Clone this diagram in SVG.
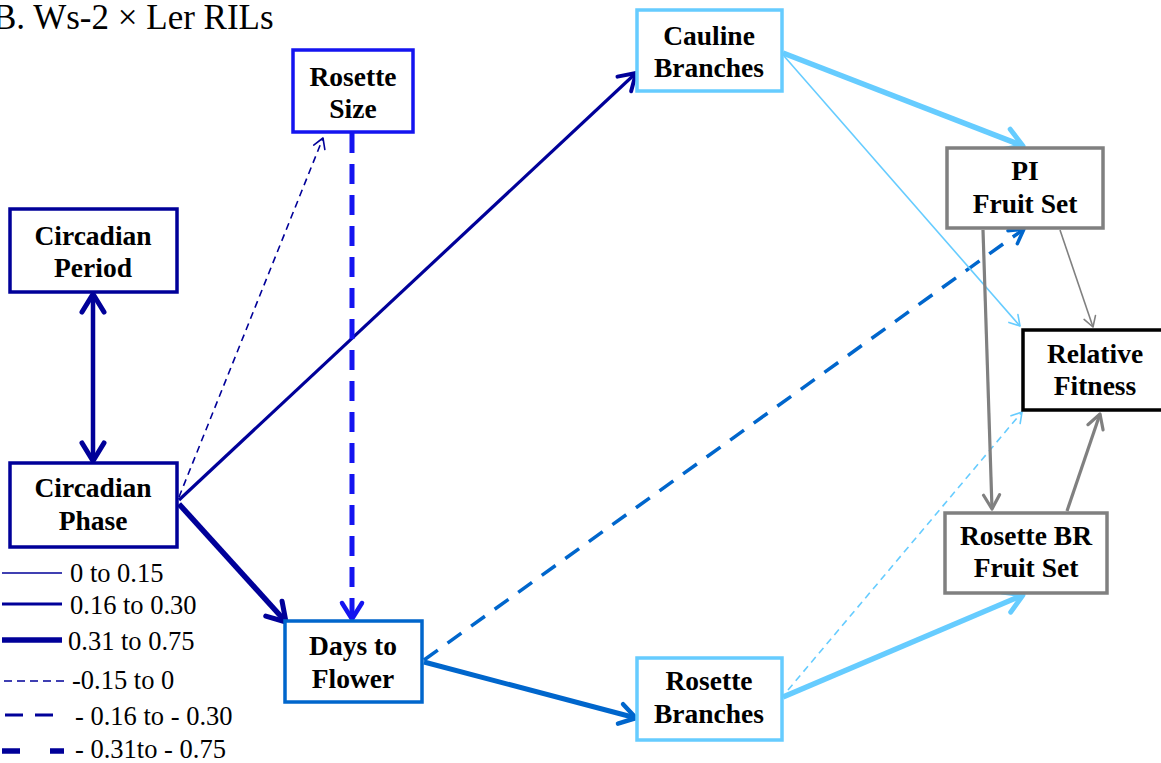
<svg xmlns="http://www.w3.org/2000/svg" width="1161" height="763" viewBox="0 0 1161 763">
<style>
.t{font-family:"Liberation Serif","Times New Roman","DejaVu Serif",serif;font-weight:bold;font-size:27.5px;fill:#000;text-anchor:middle}
.lg{font-family:"Liberation Serif","Times New Roman","DejaVu Serif",serif;font-size:26.5px;fill:#000}
.box{fill:#fff;stroke-width:3.5}
.c{fill:none;stroke-linecap:butt}
</style>
<defs>
<marker id="nL" markerUnits="userSpaceOnUse" orient="auto-start-reverse" markerWidth="40" markerHeight="40" refX="0" refY="0" viewBox="-20 -20 40 40" overflow="visible"><path d="M-18,-11 L0,0 L-18,11" fill="none" stroke="#000099" stroke-width="5" stroke-linecap="round" stroke-linejoin="round"/></marker>
<marker id="nM" markerUnits="userSpaceOnUse" orient="auto" markerWidth="40" markerHeight="40" refX="0" refY="0" viewBox="-20 -20 40 40" overflow="visible"><path d="M-16,-10 L0,0 L-16,10" fill="none" stroke="#000099" stroke-width="4" stroke-linecap="round" stroke-linejoin="round"/></marker>
<marker id="nS" markerUnits="userSpaceOnUse" orient="auto" markerWidth="40" markerHeight="40" refX="0" refY="0" viewBox="-20 -20 40 40" overflow="visible"><path d="M-10,-6 L0,0 L-10,6" fill="none" stroke="#000099" stroke-width="1.6" stroke-linecap="round" stroke-linejoin="round"/></marker>
<marker id="bL" markerUnits="userSpaceOnUse" orient="auto" markerWidth="40" markerHeight="40" refX="0" refY="0" viewBox="-20 -20 40 40" overflow="visible"><path d="M-16,-10 L0,0 L-16,10" fill="none" stroke="#1414F0" stroke-width="4.5" stroke-linecap="round" stroke-linejoin="round"/></marker>
<marker id="mL" markerUnits="userSpaceOnUse" orient="auto" markerWidth="40" markerHeight="40" refX="0" refY="0" viewBox="-20 -20 40 40" overflow="visible"><path d="M-16,-10 L0,0 L-16,10" fill="none" stroke="#0066CC" stroke-width="4.5" stroke-linecap="round" stroke-linejoin="round"/></marker>
<marker id="mM" markerUnits="userSpaceOnUse" orient="auto" markerWidth="40" markerHeight="40" refX="0" refY="0" viewBox="-20 -20 40 40" overflow="visible"><path d="M-14,-8 L0,0 L-14,8" fill="none" stroke="#0066CC" stroke-width="3.5" stroke-linecap="round" stroke-linejoin="round"/></marker>
<marker id="lL" markerUnits="userSpaceOnUse" orient="auto" markerWidth="40" markerHeight="40" refX="0" refY="0" viewBox="-20 -20 40 40" overflow="visible"><path d="M-18,-11 L0,0 L-18,11" fill="none" stroke="#66CCFF" stroke-width="5" stroke-linecap="round" stroke-linejoin="round"/></marker>
<marker id="lS" markerUnits="userSpaceOnUse" orient="auto" markerWidth="40" markerHeight="40" refX="0" refY="0" viewBox="-20 -20 40 40" overflow="visible"><path d="M-10,-6 L0,0 L-10,6" fill="none" stroke="#66CCFF" stroke-width="1.6" stroke-linecap="round" stroke-linejoin="round"/></marker>
<marker id="gM" markerUnits="userSpaceOnUse" orient="auto" markerWidth="40" markerHeight="40" refX="0" refY="0" viewBox="-20 -20 40 40" overflow="visible"><path d="M-14,-8 L0,0 L-14,8" fill="none" stroke="#808080" stroke-width="3.2" stroke-linecap="round" stroke-linejoin="round"/></marker>
<marker id="gS" markerUnits="userSpaceOnUse" orient="auto" markerWidth="40" markerHeight="40" refX="0" refY="0" viewBox="-20 -20 40 40" overflow="visible"><path d="M-10,-6 L0,0 L-10,6" fill="none" stroke="#808080" stroke-width="1.6" stroke-linecap="round" stroke-linejoin="round"/></marker>
</defs>
<rect width="1161" height="763" fill="#fff"/>
<text x="-7" y="29" font-family="'Liberation Serif','Times New Roman','DejaVu Serif',serif" font-size="35">B. Ws-2 × Ler RILs</text>

<g id="connectors" class="c">
<line x1="93" y1="294" x2="93" y2="461" stroke="#000099" stroke-width="4.5" marker-start="url(#nL)" marker-end="url(#nL)"/>
<line x1="179" y1="497" x2="323" y2="138" stroke="#000099" stroke-width="1.6" stroke-dasharray="7,5" marker-end="url(#nS)"/>
<line x1="179" y1="500" x2="636" y2="73" stroke="#000099" stroke-width="3.2" marker-end="url(#nM)"/>
<line x1="179" y1="504" x2="286" y2="622" stroke="#000099" stroke-width="5.5" marker-end="url(#nL)"/>
<line x1="352" y1="133" x2="352" y2="619" stroke="#1414F0" stroke-width="5" stroke-dasharray="20,11" marker-end="url(#bL)"/>
<line x1="424" y1="660" x2="1024" y2="229" stroke="#0066CC" stroke-width="3.5" stroke-dasharray="17,12" marker-end="url(#mM)"/>
<line x1="424" y1="662" x2="636" y2="718" stroke="#0066CC" stroke-width="5" marker-end="url(#mL)"/>
<line x1="783" y1="53" x2="1023" y2="146" stroke="#66CCFF" stroke-width="5.5" marker-end="url(#lL)"/>
<line x1="784" y1="56" x2="1020" y2="326" stroke="#66CCFF" stroke-width="1.6" marker-end="url(#lS)"/>
<line x1="783" y1="697" x2="1023" y2="595" stroke="#66CCFF" stroke-width="5.5" marker-end="url(#lL)"/>
<line x1="788" y1="690" x2="1022" y2="412" stroke="#66CCFF" stroke-width="1.6" stroke-dasharray="7,5" marker-end="url(#lS)"/>
<line x1="1060" y1="230" x2="1093" y2="327" stroke="#808080" stroke-width="1.6" marker-end="url(#gS)"/>
<line x1="983" y1="230" x2="992" y2="509" stroke="#808080" stroke-width="3.2" marker-end="url(#gM)"/>
<line x1="1067" y1="511" x2="1100" y2="414" stroke="#808080" stroke-width="3.2" marker-end="url(#gM)"/>
</g>

<g id="circadian-period">
<rect class="box" x="10" y="209" width="167" height="83" stroke="#000099"/>
<text class="t" x="93" y="245">Circadian</text>
<text class="t" x="93" y="277">Period</text>
</g>
<g id="circadian-phase">
<rect class="box" x="10" y="463" width="167" height="84" stroke="#000099"/>
<text class="t" x="93" y="497">Circadian</text>
<text class="t" x="93" y="530">Phase</text>
</g>
<g id="rosette-size">
<rect class="box" x="293" y="50" width="120" height="82" stroke="#1414F0"/>
<text class="t" x="353" y="86">Rosette</text>
<text class="t" x="353" y="118">Size</text>
</g>
<g id="cauline-branches">
<rect class="box" x="637" y="10" width="145" height="81" stroke="#66CCFF"/>
<text class="t" x="709" y="45">Cauline</text>
<text class="t" x="709" y="77">Branches</text>
</g>
<g id="pi-fruit-set">
<rect class="box" x="947" y="148" width="156" height="80" stroke="#808080"/>
<text class="t" x="1025" y="180">PI</text>
<text class="t" x="1025" y="213">Fruit Set</text>
</g>
<g id="relative-fitness">
<rect class="box" x="1023" y="330" width="145" height="80" stroke="#000" stroke-width="4"/>
<text class="t" x="1095" y="363">Relative</text>
<text class="t" x="1095" y="395">Fitness</text>
</g>
<g id="rosette-br-fruit-set">
<rect class="box" x="945" y="513" width="162" height="80" stroke="#808080"/>
<text class="t" x="1026" y="545">Rosette BR</text>
<text class="t" x="1026" y="577">Fruit Set</text>
</g>
<g id="days-to-flower">
<rect class="box" x="285" y="621" width="137" height="81" stroke="#0066CC"/>
<text class="t" x="353" y="655">Days to</text>
<text class="t" x="353" y="688">Flower</text>
</g>
<g id="rosette-branches">
<rect class="box" x="637" y="658" width="145" height="82" stroke="#66CCFF"/>
<text class="t" x="709" y="690">Rosette</text>
<text class="t" x="709" y="723">Branches</text>
</g>

<g id="legend">
<line x1="2" y1="573" x2="62" y2="573" stroke="#000099" stroke-width="1.6"/>
<line x1="2" y1="604" x2="62" y2="604" stroke="#000099" stroke-width="3.2"/>
<line x1="2" y1="640" x2="62" y2="640" stroke="#000099" stroke-width="5.5"/>
<line x1="4" y1="681" x2="64" y2="681" stroke="#000099" stroke-width="1.6" stroke-dasharray="8,5"/>
<line x1="5" y1="715" x2="54" y2="715" stroke="#000099" stroke-width="3.2" stroke-dasharray="18,12"/>
<line x1="2" y1="751" x2="64" y2="751" stroke="#000099" stroke-width="5.5" stroke-dasharray="18,30"/>
<text class="lg" x="70" y="582">0 to 0.15</text>
<text class="lg" x="70" y="614">0.16 to 0.30</text>
<text class="lg" x="68" y="650">0.31 to 0.75</text>
<text class="lg" x="72" y="689">-0.15 to 0</text>
<text class="lg" x="75" y="725">- 0.16 to - 0.30</text>
<text class="lg" x="75" y="758">- 0.31to - 0.75</text>
</g>
</svg>
